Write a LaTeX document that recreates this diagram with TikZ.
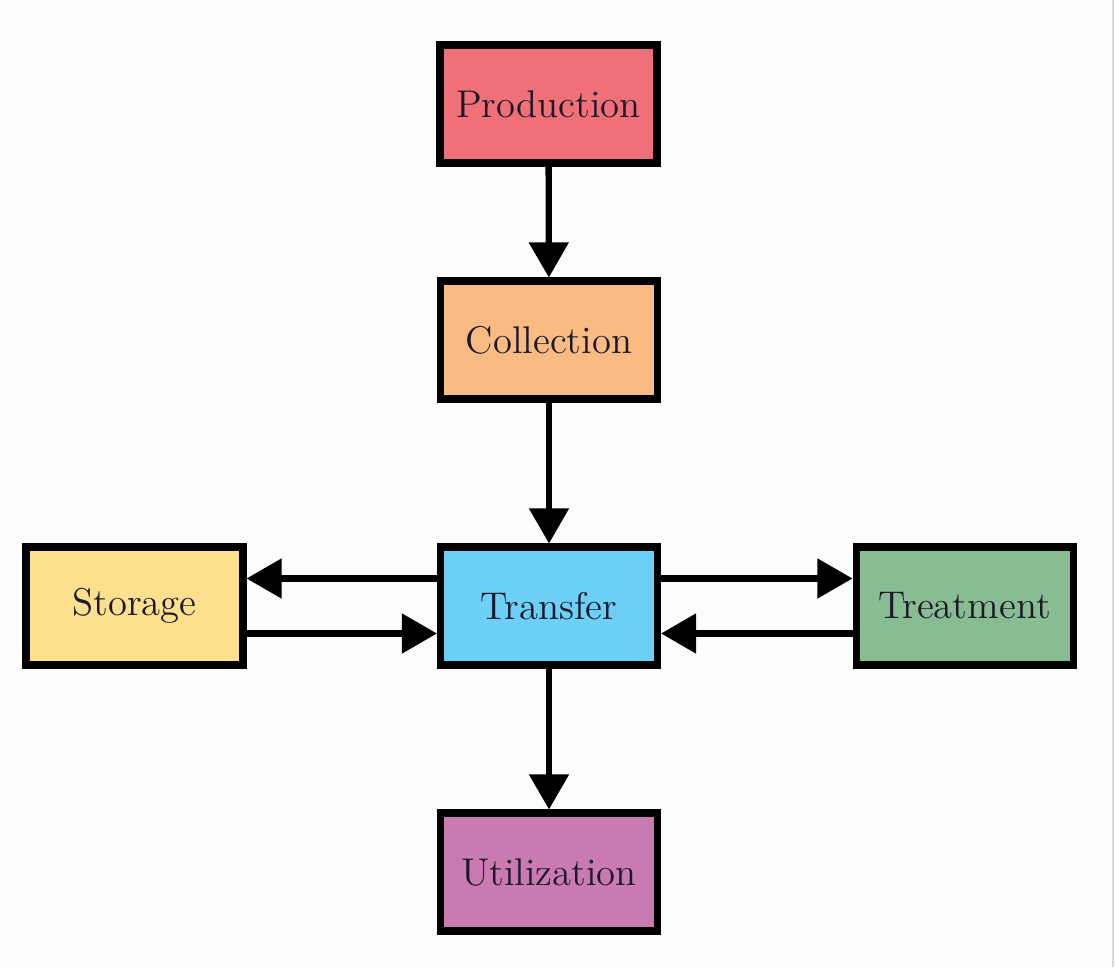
\documentclass[tikz,border=0pt]{standalone}
\usepackage{tikz}
\usetikzlibrary{arrows.meta}

\definecolor{prodred}{HTML}{F07078}
\definecolor{collorange}{HTML}{F9BB82}
\definecolor{transblue}{HTML}{6CCFF6}
\definecolor{storyellow}{HTML}{FDE08E}
\definecolor{treatgreen}{HTML}{88BC92}
\definecolor{utilpurple}{HTML}{C97AB0}
\definecolor{txtdark}{HTML}{1C1A2A}
\definecolor{bgwhite}{HTML}{FCFCFC}

\tikzset{
  stagebox/.style={draw=black, line width=2pt, minimum width=2.17cm, minimum height=1.18cm,
    text=txtdark, font=\fontsize{11}{13}\selectfont, inner sep=0pt},
  flow/.style={line width=1.8pt, -{Triangle[length=10pt,width=11pt]}}
}

\begin{document}
\begin{tikzpicture}
			%%%%% START %%%%%
			
			\fill[bgwhite] (0, 0) rectangle (11.15, 9.67);
			\useasboundingbox (0, 0) rectangle (11.15, 9.67);
			\draw[line width=0.4pt, color=black!15] (11.13, 0) -- (11.13, 9.67);
			
			\node[stagebox, fill=prodred] (prod) at (5.485, 8.63) {Production};
			\node[stagebox, fill=collorange] (coll) at (5.49, 6.27) {Collection};
			\node[stagebox, fill=transblue] (trans) at (5.49, 3.61) {Transfer};
			\node[stagebox, fill=storyellow] (stor) at (1.345, 3.61) {Storage};
			\node[stagebox, fill=treatgreen] (treat) at (9.645, 3.61) {Treatment};
			\node[stagebox, fill=utilpurple] (util) at (5.49, 0.95) {Utilization};
			
			\draw[flow] (prod) -- (coll);
			\draw[flow] (coll) -- (trans);
			\draw[flow] (trans) -- (util);
			
			\draw[flow] ([yshift=2.75mm]trans.west) -- ([yshift=2.75mm]stor.east);
			\draw[flow] ([yshift=-2.75mm]stor.east) -- ([yshift=-2.75mm]trans.west);
			\draw[flow] ([yshift=2.75mm]trans.east) -- ([yshift=2.75mm]treat.west);
			\draw[flow] ([yshift=-2.75mm]treat.west) -- ([yshift=-2.75mm]trans.east);
			
			%%%%% END %%%%%
		\end{tikzpicture}
\end{document}
